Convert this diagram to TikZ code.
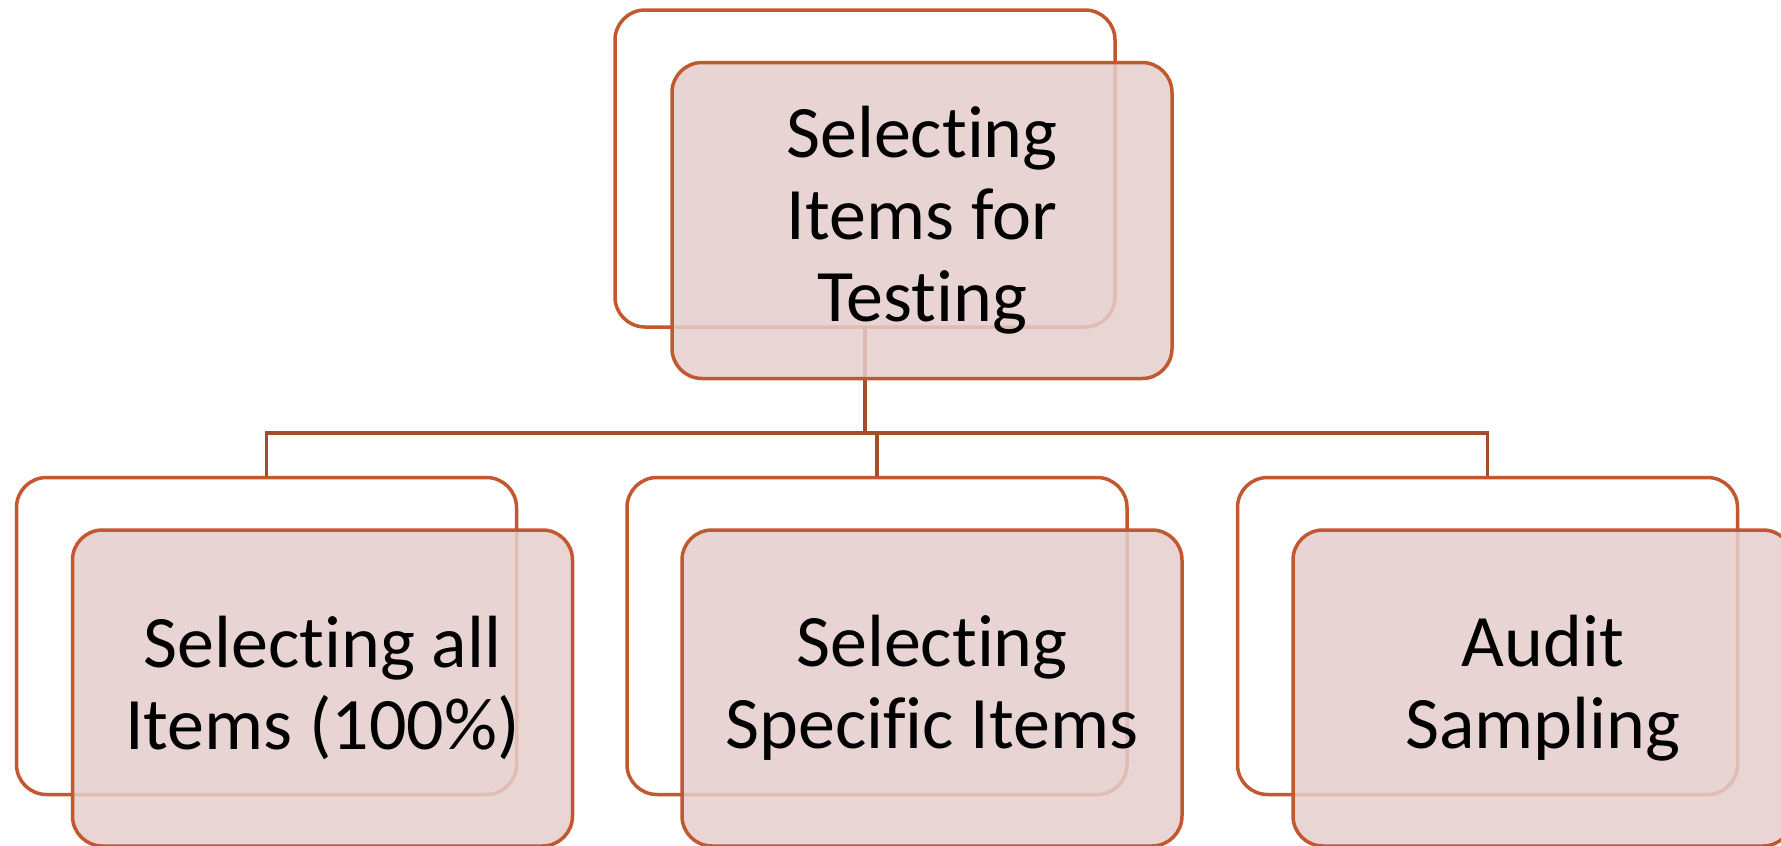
\documentclass[tikz,border=0pt]{standalone}
\usepackage{fontspec}
\setmainfont[Ligatures=NoCommon,RawFeature=-liga]{Carlito}
\definecolor{boxline}{RGB}{193,88,47}
\definecolor{linkline}{RGB}{162,78,42}
\definecolor{boxfill}{RGB}{229,206,204}
\tikzset{
  backbox/.style={draw=boxline, line width=3.5pt, fill=white, rounded corners=30pt,
    minimum width=500pt, minimum height=317pt, inner sep=0pt},
  frontbox/.style={draw=boxline, line width=3.5pt, fill=boxfill, fill opacity=0.85,
    text opacity=1, draw opacity=1, rounded corners=30pt,
    minimum width=500pt, minimum height=316pt, inner sep=0pt, align=center,
    font=\fontsize{74}{82}\selectfont},
  link/.style={draw=linkline, line width=3.5pt}
}
\begin{document}
\begin{tikzpicture}[x=1pt,y=-1pt]
  \useasboundingbox (0,0) rectangle (1781,846);
  \clip (0,0) rectangle (1781,846);

  % outline boxes behind each label card
  \node[backbox] (topback) at (865,168.5) {};
  \node[backbox] (lback) at (266.5,636) {};
  \node[backbox] (mback) at (877,636) {};
  \node[backbox] (rback) at (1487.5,636) {};

  % tree connectors: trunk, bus and drops
  \coordinate (bus) at (0,433);
  \draw[link] (topback.south) -- (topback.south |- bus);
  \draw[link] (topback.south |- bus) -| (lback.north);
  \draw[link] (topback.south |- bus) -| (mback.north);
  \draw[link] (topback.south |- bus) -| (rback.north);

  % label cards
  \node[frontbox] (top) at (922,220.5) {Selecting\\Items for\\Testing};
  \node[frontbox] (left) at (322.5,688) {Selecting all\\Items (100\%)};
  \node[frontbox] (mid) at (932,688) {Selecting\\Specific Items};
  \node[frontbox] (right) at (1543,688) {Audit\\Sampling};
\end{tikzpicture}
\end{document}
